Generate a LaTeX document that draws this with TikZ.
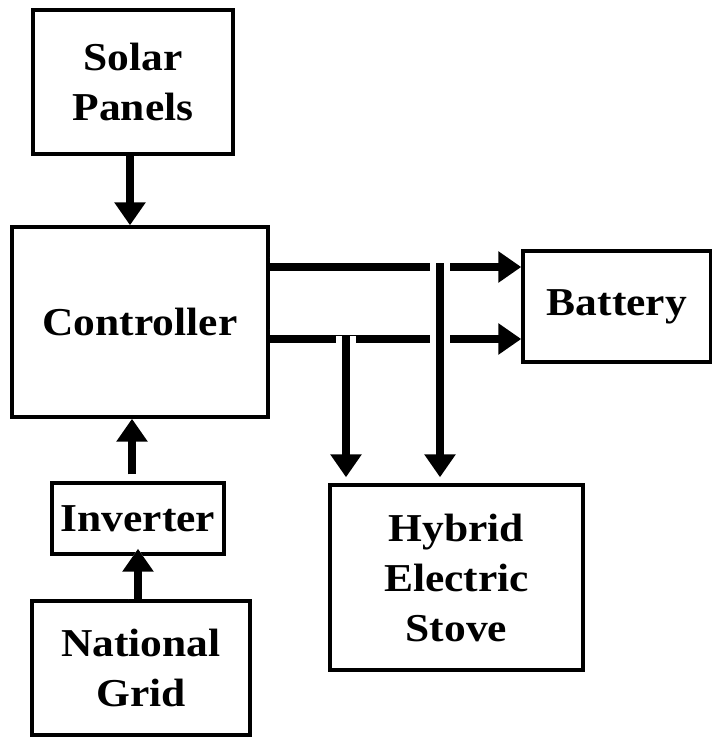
\documentclass[tikz,border=0pt]{standalone}
\usepackage{fontspec}
\setmainfont{Liberation Serif}[FakeStretch=1.1]
\usepackage{tikz}
\usetikzlibrary{arrows.meta, positioning}

\tikzset{
    blocco/.style={draw, line width=2pt, align=center, inner sep=0pt,
        font=\fontsize{22.5}{28.45}\selectfont\bfseries},
    flusso/.style={line width=4pt, -{Triangle[length=13pt, width=17pt]},
        preaction={draw=white, line width=11pt}}
}

\begin{document}
\begin{tikzpicture}[x=0.02cm, y=-0.02cm]
    \useasboundingbox (0,0) rectangle (712,738);

    % blocchi
    \node[blocco, minimum width=4cm, minimum height=2.88cm] (solar) at (133,82) {Solar\\Panels};
    \node[blocco, minimum width=5.12cm, minimum height=3.8cm] (ctrl) at (140,322) {Controller};
    \node[blocco, minimum width=3.76cm, minimum height=2.22cm] (batt) at (617,306.5) {Battery};
    \node[blocco, minimum width=3.44cm, minimum height=1.42cm] (inv) at (138,518.5) {Inverter};
    \node[blocco, minimum width=4.36cm, minimum height=2.68cm] (grid) at (141,668) {National\\Grid};
    \node[blocco, minimum width=5.06cm, minimum height=3.7cm] (stove) at (456.5,577.5) {Hybrid\\Electric\\Stove};

    % punti di passaggio
    \coordinate (xs) at (130,0);
    \coordinate (xi) at (132,0);
    \coordinate (alto) at (440,267);
    \coordinate (basso) at (346,339);

    % frecce verso il controller
    \draw[flusso] (solar.south -| xs) -- (ctrl.north -| xs);
    \draw[flusso, shorten <=0.14cm] (inv.north -| xi) -- (ctrl.south -| xi);
    \draw[flusso, shorten >=-0.14cm] (grid.north -| inv.south) -- (inv.south);

    % frecce verso batteria
    \draw[flusso] (ctrl.east |- alto) -- (batt.west |- alto);
    \draw[flusso] (ctrl.east |- basso) -- (batt.west |- basso);

    % frecce verso la stufa
    \draw[flusso, shorten >=0.12cm] ([yshift=0.08cm]alto) -- (alto |- stove.north);
    \draw[flusso, shorten >=0.12cm] ([yshift=0.06cm]basso) -- (basso |- stove.north);
\end{tikzpicture}
\end{document}
